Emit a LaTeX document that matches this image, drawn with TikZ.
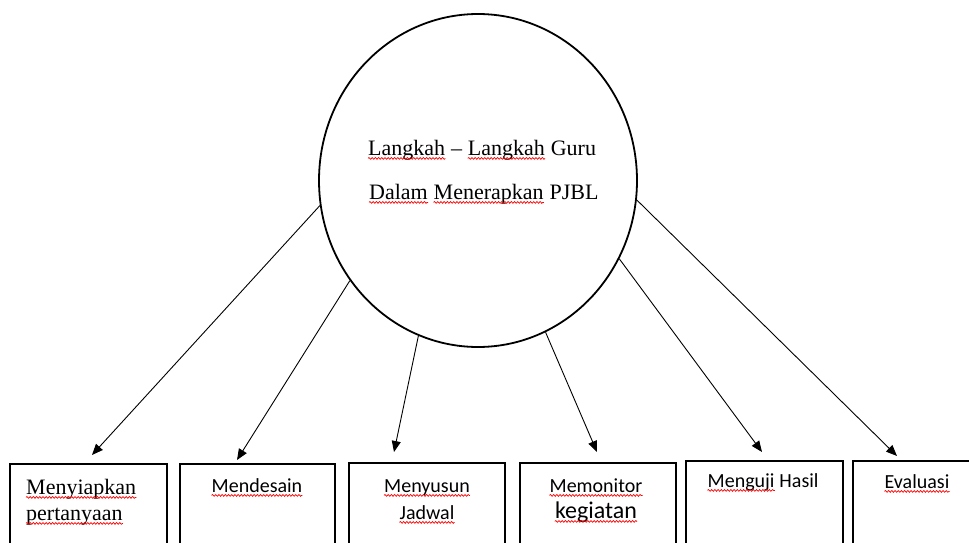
\documentclass[tikz,border=0pt]{standalone}
\usepackage{fontspec}
\setmainfont{Liberation Serif}
\newfontfamily\carlfont{Carlito}
\usetikzlibrary{arrows.meta,shapes.geometric,decorations.pathmorphing}
\begin{document}
\begin{tikzpicture}[x=1pt,y=-1pt,
  box/.style={draw,line width=2pt,anchor=north west,inner sep=0,minimum height=110pt},
  conn/.style={line width=0.9pt,-{Triangle[length=11pt,width=9pt]}},
  serif/.style={font=\fontsize{22}{26}\selectfont,inner sep=0,anchor=base west},
  sans/.style={font=\carlfont\fontsize{20}{24}\selectfont,inner sep=0,anchor=base},
  wave/.style={draw=red,line width=0.7pt,decorate,decoration={snake,amplitude=0.9pt,segment length=3.2pt}}]
\useasboundingbox (0,0) rectangle (969,543);
\clip (0,0) rectangle (969,543);
% central circle
\node[ellipse,draw,line width=1.8pt,minimum width=318pt,minimum height=333pt,inner sep=0] (c) at (478,180.5) {};
% line 1
\node[serif] (w1) at (368,155) {Langkah};
\node[serif] (w2) at ([xshift=5.5pt]w1.base east) {--};
\node[serif] (w3) at ([xshift=5.5pt]w2.base east) {Langkah};
\node[serif] (w4) at ([xshift=5.5pt]w3.base east) {Guru};
% line 2
\node[serif] (w5) at (369,199) {Dalam};
\node[serif] (w6) at ([xshift=5.5pt]w5.base east) {Menerapkan};
\node[serif] (w7) at ([xshift=5.5pt]w6.base east) {PJBL};
% boxes
\node[box,minimum width=157pt] (b1) at (9,463) {};
\node[box,minimum width=155pt] (b2) at (179,463) {};
\node[box,minimum width=156pt] (b3) at (348,462) {};
\node[box,minimum width=156pt] (b4) at (519,462) {};
\node[box,minimum width=157pt] (b5) at (685,460) {};
\node[box,minimum width=157pt] (b6) at (852,460) {};
% box texts
\node[serif] (x1a) at (26,494) {Menyiapkan};
\node[serif] (x1b) at (26,520) {pertanyaan};
\node[sans] (x2) at (257,492) {Mendesain};
\node[sans] (x3a) at (427,492) {Menyusun};
\node[sans] (x3b) at (427,519) {Jadwal};
\node[sans] (x4a) at (596,492) {Memonitor};
\node[sans,font=\carlfont\fontsize{24}{28}\selectfont] (x4b) at (596,518) {kegiatan};
\node[sans,anchor=base west] (x5a) at (707.5,487) {Menguji};
\node[sans,anchor=base west] (x5b) at ([xshift=4.5pt]x5a.base east) {Hasil};
\node[sans] (x6) at (917,488) {Evaluasi};
% spelling marks
\foreach \w in {w1,w3,w5,w6,x1a,x1b,x2,x3a,x3b,x4a,x4b,x5a,x6}
  \draw[wave] ([yshift=-3.4pt]\w.base west) -- ([yshift=-3.4pt]\w.base east);
% arrow tips
\coordinate (t1) at (92,455);
\coordinate (t2) at (237,460);
\coordinate (t3) at (394,452);
\coordinate (t4) at (597,452);
\coordinate (t5) at (762,452);
\coordinate (t6) at (897,456);
\draw[conn] (c.189) -- (t1);
\draw[conn] (c.218.6) -- (t2);
\draw[conn] (c.249.1) -- (t3);
\draw[conn] (c.294.1) -- (t4);
\draw[conn] (c.331.2) -- (t5);
\draw[conn] (c.353.9) -- (t6);
\end{tikzpicture}
\end{document}
